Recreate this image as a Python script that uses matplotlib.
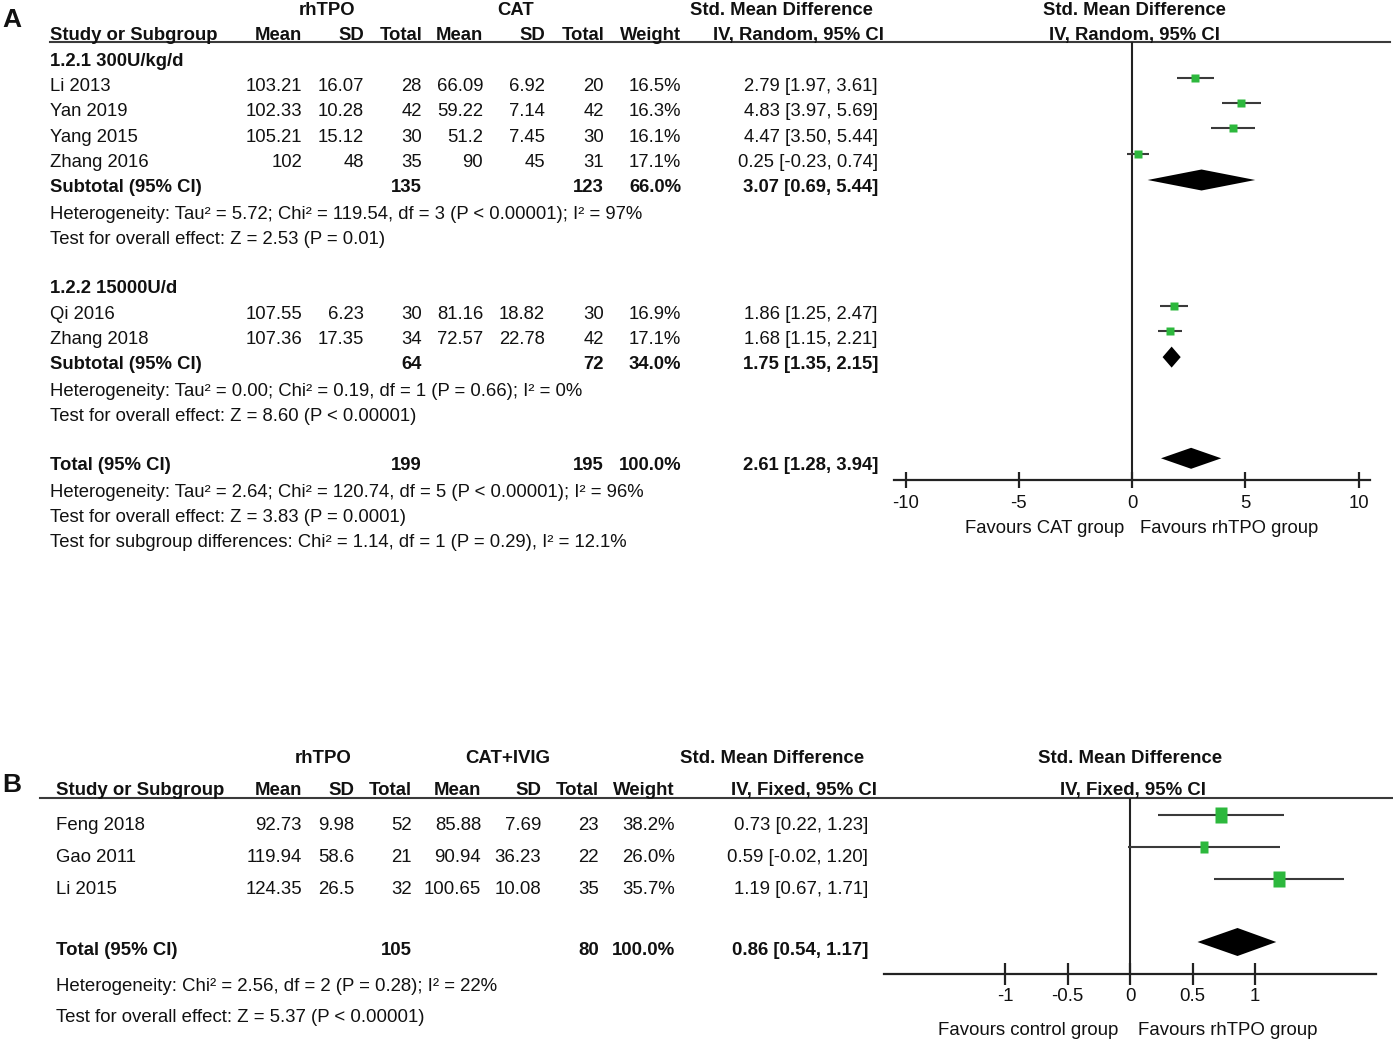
#script to redraw the rhTPO vs CAT forest plots (panels A and B)

import matplotlib
matplotlib.use('Agg')
import matplotlib.pyplot as plt
from matplotlib.patches import Polygon, Rectangle
from matplotlib.path import Path

W, H = 1393, 1043

# ---- panel A data ----
a_studies = ['Li 2013', 'Yan 2019', 'Yang 2015', 'Zhang 2016', 'Qi 2016', 'Zhang 2018']
a_group = [0, 0, 0, 0, 1, 1]
a_exp_mean = [103.21, 102.33, 105.21, 102, 107.55, 107.36]
a_exp_sd = [16.07, 10.28, 15.12, 48, 6.23, 17.35]
a_exp_n = [28, 42, 30, 35, 30, 34]
a_ctl_mean = [66.09, 59.22, 51.2, 90, 81.16, 72.57]
a_ctl_sd = [6.92, 7.14, 7.45, 45, 18.82, 22.78]
a_ctl_n = [20, 42, 30, 31, 30, 42]
a_weight = [16.5, 16.3, 16.1, 17.1, 16.9, 17.1]
a_smd = [2.79, 4.83, 4.47, 0.25, 1.86, 1.68]
a_lo = [1.97, 3.97, 3.50, -0.23, 1.25, 1.15]
a_hi = [3.61, 5.69, 5.44, 0.74, 2.47, 2.21]

sub_names = ['1.2.1 300U/kg/d', '1.2.2 15000U/d']
sub_exp_n = [135, 64]
sub_ctl_n = [123, 72]
sub_weight = [66.0, 34.0]
sub_smd = [3.07, 1.75]
sub_lo = [0.69, 1.35]
sub_hi = [5.44, 2.15]
sub_het = ['Heterogeneity: Tau² = 5.72; Chi² = 119.54, df = 3 (P < 0.00001); I² = 97%',
           'Heterogeneity: Tau² = 0.00; Chi² = 0.19, df = 1 (P = 0.66); I² = 0%']
sub_test = ['Test for overall effect: Z = 2.53 (P = 0.01)',
            'Test for overall effect: Z = 8.60 (P < 0.00001)']

a_tot_exp_n, a_tot_ctl_n, a_tot_weight = 199, 195, 100.0
a_tot_smd, a_tot_lo, a_tot_hi = 2.61, 1.28, 3.94
a_tot_het = 'Heterogeneity: Tau² = 2.64; Chi² = 120.74, df = 5 (P < 0.00001); I² = 96%'
a_tot_test = 'Test for overall effect: Z = 3.83 (P = 0.0001)'
a_sub_diff = 'Test for subgroup differences: Chi² = 1.14, df = 1 (P = 0.29), I² = 12.1%'
a_ticks = [-10, -5, 0, 5, 10]
a_ticklabels = ['-10', '-5', '0', '5', '10']

# ---- panel B data ----
b_studies = ['Feng 2018', 'Gao 2011', 'Li 2015']
b_exp_mean = [92.73, 119.94, 124.35]
b_exp_sd = [9.98, 58.6, 26.5]
b_exp_n = [52, 21, 32]
b_ctl_mean = [85.88, 90.94, 100.65]
b_ctl_sd = [7.69, 36.23, 10.08]
b_ctl_n = [23, 22, 35]
b_weight = [38.2, 26.0, 35.7]
b_smd = [0.73, 0.59, 1.19]
b_lo = [0.22, -0.02, 0.67]
b_hi = [1.23, 1.20, 1.71]
b_tot_exp_n, b_tot_ctl_n, b_tot_weight = 105, 80, 100.0
b_tot_smd, b_tot_lo, b_tot_hi = 0.86, 0.54, 1.17
b_tot_het = 'Heterogeneity: Chi² = 2.56, df = 2 (P = 0.28); I² = 22%'
b_tot_test = 'Test for overall effect: Z = 5.37 (P < 0.00001)'
b_ticks = [-1, -0.5, 0, 0.5, 1]
b_ticklabels = ['-1', '-0.5', '0', '0.5', '1']

GREEN = '#2db83d'
LINE = '#3a3a3a'
INK = '#111111'
FONT_A = ['Liberation Sans', 'DejaVu Sans']
FONT_B = ['Liberation Sans', 'DejaVu Sans']
FS_A = 13.3
FS_B = 13.4


def fmt(v):
    return '%g' % v


def ci(m, lo, hi):
    return '%.2f [%.2f, %.2f]' % (m, lo, hi)


fig = plt.figure(figsize=(W / 100, H / 100), dpi=100)
fig.patch.set_facecolor('white')

# layout axes in pixel units for the table text
tx = fig.add_axes([0, 0, 1, 1], zorder=0)
tx.set_xlim(0, W)
tx.set_ylim(H, 0)
tx.axis('off')


def put(x, y, s, ha='left', bold=False, size=FS_A, fam=FONT_A, cap=0.358):
    # y is the visual centre of the text line
    return tx.text(x, y + cap * size * 100 / 72, s, ha=ha, va='baseline',
                   fontsize=size, fontweight='bold' if bold else 'normal',
                   family=fam, color=INK)


def box(x0, x1, y0, y1):
    return [x0 / W, 1 - y1 / H, (x1 - x0) / W, (y1 - y0) / H]


# ================= panel A =================
put(2, 18, 'A', bold=True, size=19)
fa = dict(size=FS_A, fam=FONT_A)
put(327, 8, 'rhTPO', ha='center', bold=True, **fa)
put(516, 8, 'CAT', ha='center', bold=True, **fa)
put(781, 8, 'Std. Mean Difference', ha='center', bold=True, **fa)
put(1134, 8, 'Std. Mean Difference', ha='center', bold=True, **fa)
col_a = [302, 364, 422, 483, 545, 604, 681, 878]
hdr = ['Mean', 'SD', 'Total', 'Mean', 'SD', 'Total', 'Weight']
put(50, 33, 'Study or Subgroup', bold=True, **fa)
for x, s in zip(col_a, hdr):
    put(x, 33, s, ha='right', bold=True, **fa)
put(884, 33, 'IV, Random, 95% CI', ha='right', bold=True, **fa)
put(1134, 33, 'IV, Random, 95% CI', ha='center', bold=True, **fa)
tx.plot([50, 1390], [42, 42], color=LINE, lw=1.5)

a_y0, a_step = 59, 25.3
rows_a = {}
r = 0
study_rows = []
for g in range(2):
    put(50, a_y0 + a_step * r, sub_names[g], bold=True, **fa)
    r += 1
    for i in range(len(a_studies)):
        if a_group[i] != g:
            continue
        y = a_y0 + a_step * r
        vals = [fmt(a_exp_mean[i]), fmt(a_exp_sd[i]), str(a_exp_n[i]),
                fmt(a_ctl_mean[i]), fmt(a_ctl_sd[i]), str(a_ctl_n[i]),
                '%.1f%%' % a_weight[i], ci(a_smd[i], a_lo[i], a_hi[i])]
        put(50, y, a_studies[i], **fa)
        for x, s in zip(col_a, vals):
            put(x, y, s, ha='right', **fa)
        study_rows.append(y)
        r += 1
    y = a_y0 + a_step * r
    rows_a['sub%d' % g] = y
    put(50, y, 'Subtotal (95% CI)', bold=True, **fa)
    put(col_a[2], y, str(sub_exp_n[g]), ha='right', bold=True, **fa)
    put(col_a[5], y, str(sub_ctl_n[g]), ha='right', bold=True, **fa)
    put(col_a[6], y, '%.1f%%' % sub_weight[g], ha='right', bold=True, **fa)
    put(col_a[7], y, ci(sub_smd[g], sub_lo[g], sub_hi[g]), ha='right', bold=True, **fa)
    put(50, y + a_step * 1.06, sub_het[g], **fa)
    put(50, y + a_step * 2.06, sub_test[g], **fa)
    r += 4

y = a_y0 + a_step * r
rows_a['tot'] = y
put(50, y, 'Total (95% CI)', bold=True, **fa)
put(col_a[2], y, str(a_tot_exp_n), ha='right', bold=True, **fa)
put(col_a[5], y, str(a_tot_ctl_n), ha='right', bold=True, **fa)
put(col_a[6], y, '%.1f%%' % a_tot_weight, ha='right', bold=True, **fa)
put(col_a[7], y, ci(a_tot_smd, a_tot_lo, a_tot_hi), ha='right', bold=True, **fa)
put(50, y + 27, a_tot_het, **fa)
put(50, y + 52, a_tot_test, **fa)
# the last line is cut off at the bottom edge of the original panel
t = put(50, y + 77, a_sub_diff, **fa)
clip = Rectangle((0, 0), W, 544, transform=tx.transData)
t.set_clip_path(clip)
put(1124, 526, 'Favours CAT group', ha='right', **fa)
put(1140, 526, 'Favours rhTPO group', **fa)

# forest part A
axA = fig.add_axes(box(894, 1370, 42, 480), zorder=1)
axA.patch.set_alpha(0)
axA.set_xlim((894 - 1132) / 22.65, (1370 - 1132) / 22.65)
axA.set_ylim(480, 42)
for s in ['top', 'left', 'right']:
    axA.spines[s].set_visible(False)
axA.spines['bottom'].set_linewidth(1.6)
axA.spines['bottom'].set_color('#222222')
axA.set_yticks([])
axA.set_xticks(a_ticks)
axA.set_xticklabels(a_ticklabels, family=FONT_A, fontsize=FS_A, color=INK)
axA.tick_params(axis='x', direction='inout', length=11, width=1.6, color='#222222', pad=5)
axA.axvline(0, color='#222222', lw=1.5)
for yy, m, lo, hi, w in zip(study_rows, a_smd, a_lo, a_hi, a_weight):
    yy -= 6.5
    axA.plot([lo, hi], [yy, yy], color=LINE, lw=1.5, solid_capstyle='butt')
    axA.plot([m], [yy], marker='s', ms=5.9 * w / 16.5, color=GREEN, mec='none')
for key, m, lo, hi in [('sub0', sub_smd[0], sub_lo[0], sub_hi[0]),
                       ('sub1', sub_smd[1], sub_lo[1], sub_hi[1]),
                       ('tot', a_tot_smd, a_tot_lo, a_tot_hi)]:
    yc = rows_a[key] - 5.5
    axA.add_patch(Polygon([(lo, yc), (m, yc - 10.5), (hi, yc), (m, yc + 10.5)],
                          closed=True, color='black', lw=0))

# ================= panel B =================
put(2, 783, 'B', bold=True, size=19)
fb = dict(size=FS_B, fam=FONT_B)
put(323, 756, 'rhTPO', ha='center', bold=True, **fb)
put(508, 756, 'CAT+IVIG', ha='center', bold=True, **fb)
put(772, 756, 'Std. Mean Difference', ha='center', bold=True, **fb)
put(1130, 756, 'Std. Mean Difference', ha='center', bold=True, **fb)
col_b = [302, 354, 412, 481, 541, 599, 675, 868]
put(56, 788, 'Study or Subgroup', bold=True, **fb)
for x, s in zip(col_b, hdr):
    put(x, 788, s, ha='right', bold=True, **fb)
put(877, 788, 'IV, Fixed, 95% CI', ha='right', bold=True, **fb)
put(1133, 788, 'IV, Fixed, 95% CI', ha='center', bold=True, **fb)
tx.plot([40, 1393], [798, 798], color=LINE, lw=1.5)

b_rows = [823, 855, 887]
for i, y in enumerate(b_rows):
    vals = [fmt(b_exp_mean[i]), fmt(b_exp_sd[i]), str(b_exp_n[i]),
            fmt(b_ctl_mean[i]), fmt(b_ctl_sd[i]), str(b_ctl_n[i]),
            '%.1f%%' % b_weight[i], ci(b_smd[i], b_lo[i], b_hi[i])]
    put(56, y, b_studies[i], **fb)
    for x, s in zip(col_b, vals):
        put(x, y, s, ha='right', **fb)
y = 948
put(56, y, 'Total (95% CI)', bold=True, **fb)
put(col_b[2], y, str(b_tot_exp_n), ha='right', bold=True, **fb)
put(col_b[5], y, str(b_tot_ctl_n), ha='right', bold=True, **fb)
put(col_b[6], y, '%.1f%%' % b_tot_weight, ha='right', bold=True, **fb)
put(col_b[7], y, ci(b_tot_smd, b_tot_lo, b_tot_hi), ha='right', bold=True, **fb)
put(56, 984, b_tot_het, **fb)
put(56, 1015, b_tot_test, **fb)
put(1118, 1028, 'Favours control group', ha='right', **fb)
put(1138, 1028, 'Favours rhTPO group', **fb)

axB = fig.add_axes(box(884, 1376, 798, 974), zorder=1)
axB.patch.set_alpha(0)
axB.set_xlim((884 - 1130) / 125.0, (1376 - 1130) / 125.0)
axB.set_ylim(974, 798)
for s in ['top', 'left', 'right']:
    axB.spines[s].set_visible(False)
axB.spines['bottom'].set_linewidth(1.6)
axB.spines['bottom'].set_color('#222222')
axB.set_yticks([])
axB.set_xticks(b_ticks)
axB.set_xticklabels(b_ticklabels, family=FONT_B, fontsize=FS_B, color=INK)
axB.tick_params(axis='x', direction='inout', length=16, width=1.6, color='#222222', pad=2)
axB.axvline(0, color='#222222', lw=1.5)
rect_marker = Path([(-0.37, -0.5), (0.37, -0.5), (0.37, 0.5), (-0.37, 0.5), (-0.37, -0.5)],
                   [Path.MOVETO, Path.LINETO, Path.LINETO, Path.LINETO, Path.CLOSEPOLY])
for yy, m, lo, hi, w in zip(b_rows, b_smd, b_lo, b_hi, b_weight):
    yy -= 8
    axB.plot([lo, hi], [yy, yy], color=LINE, lw=1.5, solid_capstyle='butt')
    axB.plot([m], [yy], marker=rect_marker, ms=12.2 * w / 38.2, color=GREEN, mec='none')
yc = 942
axB.add_patch(Polygon([(b_tot_lo, yc), (b_tot_smd, yc - 14), (b_tot_hi, yc), (b_tot_smd, yc + 14)],
                      closed=True, color='black', lw=0))

fig.savefig('out.png', dpi=100)
